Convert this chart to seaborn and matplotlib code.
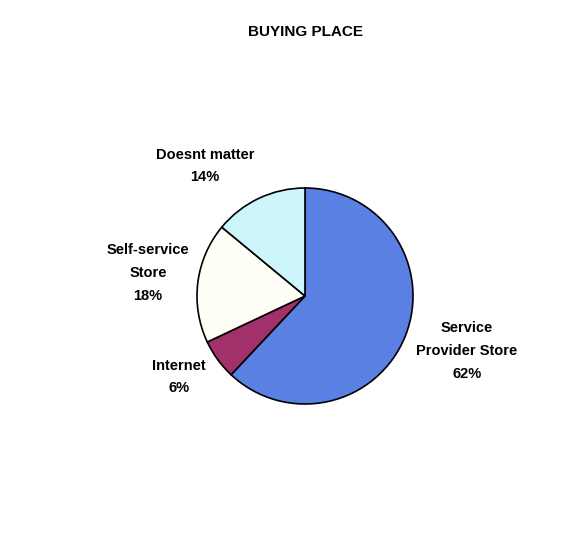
import matplotlib
matplotlib.use("Agg")
import matplotlib.pyplot as plt
import seaborn as sns

categories = ["Service\nProvider Store", "Internet", "Self-service\nStore", "Doesnt matter"]
values = [62, 6, 18, 14]
colors = ["#5a80e4", "#a2306a", "#fffff8", "#cdf6fc"]
title = "BUYING PLACE"

sns.set_theme(style="white")
plt.rcParams['font.family'] = ['Liberation Sans', 'DejaVu Sans']

W, H = 586, 534
fig = plt.figure(figsize=(W / 100, H / 100), dpi=100)
cx, cy, r = 305, 296, 108
ax = fig.add_axes([(cx - r) / W, (H - cy - r) / H, 2 * r / W, 2 * r / H])

wedges, _ = ax.pie(values, colors=colors, startangle=90, counterclock=False,
                   radius=1.0,
                   wedgeprops=dict(edgecolor="black", linewidth=1.2))
ax.set_xlim(-1, 1)
ax.set_ylim(-1, 1)
ax.set_aspect("auto")
ax.axis("off")

# label anchor positions in pixels (centers)
label_pos = [(467, 351), (179, 377), (148, 273), (205, 166)]
for cat, val, (px, py) in zip(categories, values, label_pos):
    fig.text(px / W, 1 - py / H, f"{cat}\n{val}%", ha="center", va="center",
             fontsize=10.5, fontweight="bold", linespacing=1.8, color="black")

fig.text(cx / W, 1 - 32 / H, title, ha="center", va="center",
         fontsize=11, fontweight="bold", color="black")

fig.savefig("out.png", dpi=100, facecolor="white")
